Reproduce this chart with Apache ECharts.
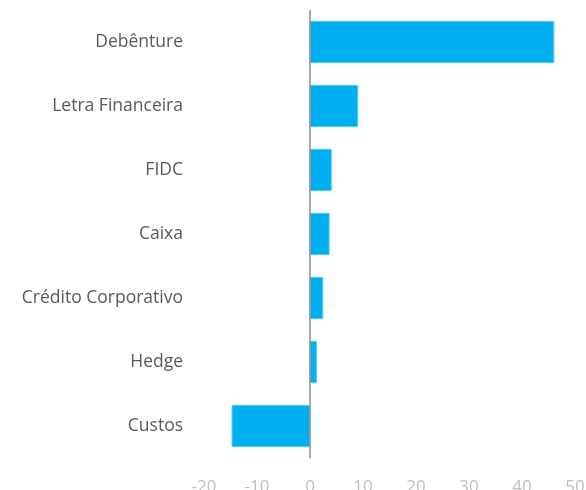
<!DOCTYPE html>
<html>
<head>
<meta charset="utf-8">
<script src="https://cdn.jsdelivr.net/npm/echarts@6/dist/echarts.min.js"></script>
<style>
  html, body { margin: 0; padding: 0; background: #fff; }
  #chart { width: 586px; height: 490px; }
</style>
</head>
<body>
<div id="chart"></div>
<script>
// categories, top to bottom
const categories = ['Debênture', 'Letra Financeira', 'FIDC', 'Caixa', 'Crédito Corporativo', 'Hedge', 'Custos']
// values
const values = [46.1, 9.1, 4.1, 3.7, 2.5, 1.3, -14.8]
const xTicks = [-20, 50, 10]  // min, max, interval

const chart = echarts.init(document.getElementById('chart'))
const font = '"Open Sans", "Noto Sans", sans-serif'

const option = {
    animation: false,
    textStyle: { fontFamily: font },
    grid: {
        left: 204,
        right: 11,
        top: 10,
        bottom: 32,
        containLabel: false,
        outerBoundsMode: 'none'
    },
    xAxis: {
        type: 'value',
        min: xTicks[0],
        max: xTicks[1],
        interval: xTicks[2],
        axisLine: { show: false },
        axisTick: { show: false },
        splitLine: { show: false },
        axisLabel: {
            color: '#bfbfbf',
            fontSize: 17,
            fontFamily: font,
            margin: 21
        }
    },
    yAxis: {
        type: 'category',
        inverse: true,
        data: categories,
        axisLine: { show: false, onZero: false },
        axisTick: { show: false },
        axisLabel: {
            color: '#595959',
            fontSize: 17.5,
            fontFamily: font,
            margin: 21
        }
    },
    series: [
        {
            type: 'bar',
            data: values,
            barCategoryGap: '34%',
            itemStyle: {
                color: '#00b0f0',
                borderColor: '#4cc8f4',
                borderWidth: 1
            },
            markLine: {
                silent: true,
                symbol: 'none',
                label: { show: false },
                lineStyle: { color: '#8c8c8c', width: 1.5, type: 'solid' },
                data: [{ xAxis: 0 }]
            }
        }
    ]
}

chart.setOption(option)
</script>
</body>
</html>
